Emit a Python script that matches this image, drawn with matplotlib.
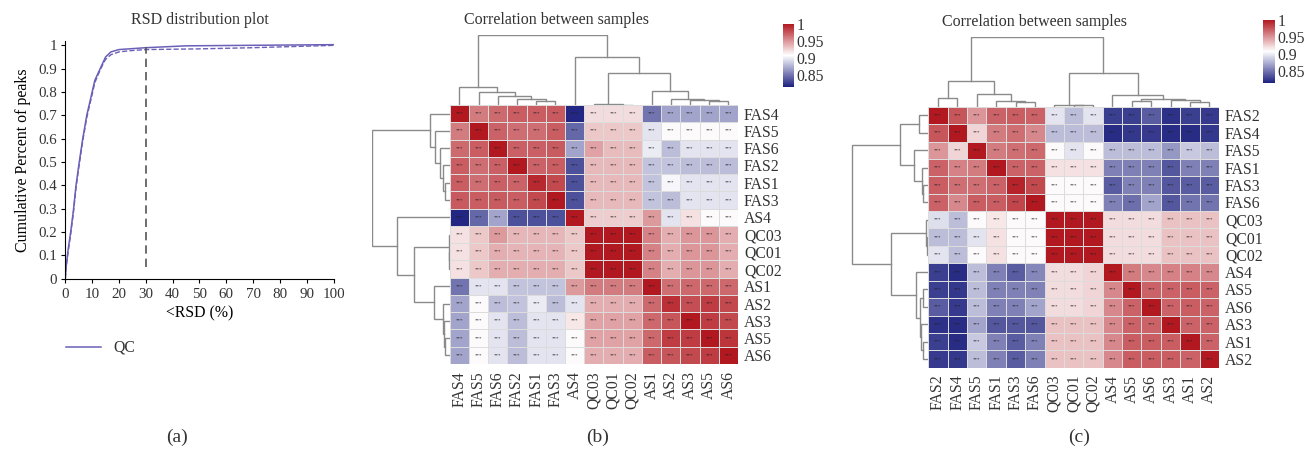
# RSD curve and the two sample correlation heatmaps
import numpy as np
import matplotlib
matplotlib.use('Agg')
import matplotlib.pyplot as plt
from matplotlib.colors import LinearSegmentedColormap, TwoSlopeNorm

plt.rcParams['font.family'] = ['Liberation Serif', 'DejaVu Serif']
plt.rcParams['text.color'] = '#333333'
plt.rcParams['xtick.labelcolor'] = '#333333'
plt.rcParams['ytick.labelcolor'] = '#333333'

W, H = 1310, 449

# panel a, values
rsd_solid = [0, 0.3, 1, 2, 3, 4, 5.2, 6.5, 8, 10, 11, 13, 15, 17, 20, 30, 45, 100]
cum_solid = [0, 0.05, 0.12, 0.2, 0.29, 0.4, 0.5, 0.6, 0.7, 0.8, 0.85, 0.9, 0.95, 0.972, 0.982, 0.99, 0.998, 1.003]
rsd_dash = [0, 0.3, 1, 2, 3, 4, 5.2, 6.5, 8, 10, 11, 13, 15, 17, 20, 25, 30, 50, 70, 100]
cum_dash = [0, 0.05, 0.11, 0.19, 0.28, 0.39, 0.49, 0.59, 0.69, 0.79, 0.84, 0.895, 0.94, 0.96, 0.972, 0.978, 0.982, 0.985, 0.99, 1.0]

# panel b
samples_b = ['FAS4', 'FAS5', 'FAS6', 'FAS2', 'FAS1', 'FAS3', 'AS4', 'QC03', 'QC01', 'QC02',
             'AS1', 'AS2', 'AS3', 'AS5', 'AS6']
corr_b = [
    [1, .96, .967, .972, .972, .974, .818, .922, .922, .922, .85, .87, .87, .87, .87],
    [.96, 1, .97, .966, .966, .972, .845, .93, .93, .93, .897, .91, .91, .91, .91],
    [.967, .972, 1, .971, .971, .973, .87, .945, .935, .935, .9, .88, .897, .897, .897],
    [.972, .966, .971, 1, .97, .972, .835, .936, .936, .936, .883, .883, .88, .88, .88],
    [.972, .966, .971, .97, .993, .98, .835, .936, .936, .936, .883, .905, .897, .897, .897],
    [.974, .972, .973, .972, .98, 1, .835, .936, .936, .936, .883, .88, .897, .897, .897],
    [.818, .845, .87, .835, .835, .835, 1, .928, .928, .928, .948, .897, .92, .91, .91],
    [.92, .93, .948, .937, .937, .937, .93, 1, 1, 1, .958, .94, .95, .95, .94],
    [.92, .93, .94, .938, .938, .938, .93, 1, 1, 1, .958, .94, .95, .95, .94],
    [.92, .93, .94, .94, .94, .94, .93, 1, 1, 1, .958, .94, .95, .95, .94],
    [.85, .897, .897, .883, .883, .883, .948, .96, .96, .96, 1, .965, .968, .968, .968],
    [.87, .91, .88, .883, .9, .88, .897, .94, .94, .94, .968, .99, .978, .985, .98],
    [.87, .91, .897, .88, .897, .897, .918, .945, .945, .945, .968, .975, 1, .985, .98],
    [.87, .91, .897, .88, .897, .897, .91, .945, .945, .945, .968, .985, .985, 1, .988],
    [.87, .91, .897, .88, .897, .897, .91, .94, .94, .94, .972, .975, .98, .985, 1],
]
# merges: left node, right node, height (leaves are 0-14, new nodes start at 15)
tree_b = [(4, 5, 4), (3, 15, 6.3), (2, 16, 8.7), (1, 17, 13), (0, 18, 18),
          (13, 14, 4), (12, 20, 5.3), (11, 21, 6), (10, 22, 14),
          (8, 9, .5), (7, 24, .7), (25, 23, 32), (6, 26, 48), (19, 27, 70)]

# panel c
samples_c = ['FAS2', 'FAS4', 'FAS5', 'FAS1', 'FAS3', 'FAS6', 'QC03', 'QC01', 'QC02',
             'AS4', 'AS5', 'AS6', 'AS3', 'AS1', 'AS2']
corr_c = [
    [1, .975, .95, .97, .972, .97, .897, .88, .897, .828, .828, .84, .822, .828, .826],
    [.975, 1, .925, .96, .965, .955, .88, .88, .88, .82, .825, .826, .82, .82, .825],
    [.95, .925, 1, .96, .965, .968, .91, .897, .91, .88, .88, .88, .865, .885, .88],
    [.97, .958, .96, 1, .97, .97, .92, .92, .92, .855, .855, .855, .838, .855, .855],
    [.972, .965, .965, .97, .995, .98, .91, .91, .91, .84, .855, .855, .838, .84, .84],
    [.97, .955, .972, .972, .982, 1, .91, .91, .91, .855, .848, .87, .838, .85, .85],
    [.895, .88, .91, .918, .91, .91, 1, 1, 1, .922, .922, .922, .932, .932, .932],
    [.88, .88, .897, .92, .91, .91, 1, 1, 1, .922, .922, .922, .932, .932, .932],
    [.897, .88, .91, .92, .91, .91, 1, 1, 1, .922, .922, .922, .932, .932, .932],
    [.828, .82, .88, .855, .84, .858, .922, .922, .925, 1, .96, .955, .958, .958, .955],
    [.828, .825, .88, .855, .855, .856, .922, .922, .925, .955, 1, .97, .97, .972, .97],
    [.84, .826, .88, .855, .855, .87, .922, .922, .925, .955, .97, 1, .97, .972, .97],
    [.822, .82, .87, .838, .838, .838, .932, .932, .932, .955, .97, .97, 1, .97, .97],
    [.828, .82, .885, .855, .84, .855, .932, .932, .932, .955, .972, .972, .972, 1, .97],
    [.826, .825, .88, .855, .84, .855, .932, .932, .932, .955, .972, .972, .972, .97, 1],
]
tree_c = [(0, 1, 8.7), (4, 5, 5), (3, 16, 6), (2, 17, 13), (15, 18, 26),
          (7, 8, 1.3), (6, 20, 2), (10, 11, 5.3), (13, 14, 5), (12, 23, 6.7),
          (22, 24, 8), (9, 25, 11.7), (21, 26, 33.7), (19, 27, 70)]

ticks_cbar = [1, 0.95, 0.9, 0.85]

cmap = LinearSegmentedColormap.from_list('corr', ['#1f2380', '#ffffff', '#b2181f'])
norm = TwoSlopeNorm(vmin=0.816, vcenter=0.908, vmax=1)

fig = plt.figure(figsize=(W / 100, H / 100), dpi=100, facecolor='w')


# pixel box of the reference -> axes
def px_axes(x0, y0, x1, y1):
    return fig.add_axes([x0 / W, 1 - y1 / H, (x1 - x0) / W, (y1 - y0) / H])


def px_text(x, y, s, size=11.5, **kw):
    fig.text(x / W, 1 - y / H, s, fontsize=size, ha='center', va='center', **kw)


def dendro_segments(tree, n):
    pos = [i + 0.5 for i in range(n)]
    hgt = [0] * n
    segs = []
    for a, b, h in tree:
        segs.append(([pos[a], pos[a], pos[b], pos[b]], [hgt[a], h, h, hgt[b]]))
        pos.append((pos[a] + pos[b]) / 2)
        hgt.append(h)
    return segs


def heat_panel(samples, corr, tree, box, top_h, left_w, cbar_box):
    x0, y0, x1, y1 = box
    n = len(samples)
    ax = px_axes(x0, y0, x1, y1)
    mesh = ax.pcolormesh(np.array(corr), cmap=cmap, norm=norm, edgecolors='#dcdcdc', linewidth=0.4)
    ax.set_xlim(0, n)
    ax.set_ylim(n, 0)
    for i in range(n):
        for j in range(n):
            ax.text(j + 0.5, i + 0.5, '***', fontsize=3.5, ha='center', va='center', color='#222222')
    ax.set_xticks(np.arange(n) + 0.5)
    ax.set_xticklabels(samples, rotation=90, fontsize=11.3)
    ax.set_yticks(np.arange(n) + 0.5)
    ax.set_yticklabels(samples, fontsize=11.3)
    ax.yaxis.tick_right()
    ax.tick_params(axis='x', length=0, pad=5)
    ax.tick_params(axis='y', length=0, pad=4.3)
    for s in ax.spines.values():
        s.set_visible(False)

    # same tree on top and on the left
    top = px_axes(x0, y0 - top_h, x1, y0)
    left = px_axes(x0 - left_w, y0, x0, y1)
    for xs, hs in dendro_segments(tree, n):
        top.plot(xs, hs, color='#8a8a8a', lw=1.0, solid_joinstyle='miter')
        left.plot(hs, xs, color='#8a8a8a', lw=1.0, solid_joinstyle='miter')
    top.set_xlim(0, n)
    top.set_ylim(0, 70.5)
    left.set_xlim(70.5, 0)
    left.set_ylim(n, 0)
    top.axis('off')
    left.axis('off')

    cax = px_axes(*cbar_box)
    cb = fig.colorbar(mesh, cax=cax, ticks=ticks_cbar)
    cb.ax.set_yticklabels([str(t) for t in ticks_cbar], fontsize=11.3)
    cb.ax.tick_params(length=0, pad=2)
    cb.outline.set_visible(False)


# panel a
ax = px_axes(65.3, 40.7, 333.5, 278.7)
ax.plot(rsd_solid, cum_solid, color='#6a60b8', lw=1.1, label='QC')
ax.plot(rsd_dash, cum_dash, color='#6a60b8', lw=1.0, ls='--')
ax.vlines(30, 0.05, 0.995, color='#555555', lw=1.2, linestyles=(0, (5, 3)))
ax.set_xlim(0, 100)
ax.set_ylim(0, 1.02)
ax.set_xticks(np.arange(0, 101, 10))
ax.set_yticks(np.arange(0, 1.01, 0.1))
ax.set_yticklabels(['0', '0.1', '0.2', '0.3', '0.4', '0.5', '0.6', '0.7', '0.8', '0.9', '1'])
ax.tick_params(labelsize=10.8, length=3, width=0.8)
ax.tick_params(axis='x', pad=4)
ax.tick_params(axis='y', pad=3)
ax.spines['top'].set_visible(False)
ax.spines['right'].set_visible(False)
ax.set_xlabel('<RSD (%)', fontsize=11.3, labelpad=3)
ax.set_ylabel('Cumulative Percent of peaks', fontsize=11.5, labelpad=5)
ax.legend(loc='center left', bbox_to_anchor=(66 / W, 1 - 348 / H), bbox_transform=fig.transFigure,
          frameon=False, fontsize=11.3, handlelength=2.2, handletextpad=0.85, borderpad=0, borderaxespad=0)

heat_panel(samples_b, corr_b, tree_b, (449.7, 105, 738, 364), 70, 78, (783, 24, 794, 86.7))
heat_panel(samples_c, corr_c, tree_c, (928.3, 106.7, 1219, 367.7), 70, 77, (1263, 20, 1275, 82.7))

px_text(200, 20, 'RSD distribution plot')
px_text(556, 20, 'Correlation between samples')
px_text(1034, 22, 'Correlation between samples')
px_text(177, 437, '(a)', size=14)
px_text(598, 437, '(b)', size=14)
px_text(1079, 437, '(c)', size=14)

fig.savefig('out.png', dpi=100)
